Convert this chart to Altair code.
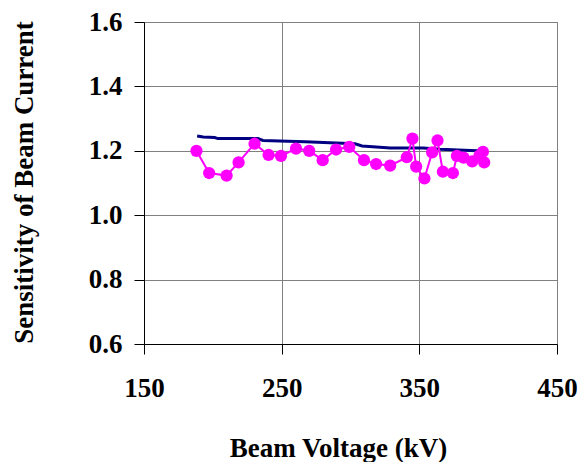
import altair as alt
import pandas as pd

# Measured sensitivity (magenta points)
meas_kv = [188.1, 197.3, 210.0, 218.7, 230.3, 240.5, 249.5, 260.4, 270.0, 279.8,
           289.5, 299.1, 309.8, 318.6, 328.8, 340.9, 345.0, 347.7, 353.7, 359.3,
           363.2, 367.1, 374.4, 377.3, 382.1, 388.4, 393.7, 396.2, 397.1]
meas_val = [1.200, 1.131, 1.123, 1.164, 1.222, 1.187, 1.184, 1.207, 1.200, 1.171,
            1.204, 1.212, 1.171, 1.159, 1.154, 1.180, 1.238, 1.151, 1.114, 1.195,
            1.232, 1.135, 1.131, 1.184, 1.179, 1.167, 1.185, 1.197, 1.164]

# Calculated sensitivity (navy line)
calc_kv = [188.6, 193.0, 201.4, 203.6, 232.7, 236.4, 267.0, 285.1, 303.3, 308.4,
           328.8, 352.8, 365.1, 392.0, 397.1]
calc_val = [1.246, 1.243, 1.241, 1.238, 1.238, 1.232, 1.228, 1.225, 1.222, 1.215,
            1.209, 1.209, 1.205, 1.200, 1.199]

x_ticks = [150, 250, 350, 450]
y_ticks = [0.6, 0.8, 1.0, 1.2, 1.4, 1.6]

meas = pd.DataFrame({"kv": meas_kv, "val": meas_val})
calc = pd.DataFrame({"kv": calc_kv, "val": calc_val})

FONT = "Liberation Serif"

x_enc = alt.X(
    "kv:Q",
    scale=alt.Scale(domain=[150, 450], nice=False, zero=False),
    axis=alt.Axis(
        values=x_ticks, title="Beam Voltage (kV)", format="d",
        titleX=194, titleY=112, titleBaseline="alphabetic", titleAnchor="start",
        titleAlign="center",
        labelPadding=21, tickSize=10, labelFlush=False,
    ),
)
y_enc = alt.Y(
    "val:Q",
    scale=alt.Scale(domain=[0.6, 1.6], nice=False, zero=False),
    axis=alt.Axis(
        values=y_ticks, format=".1f", title="Sensitivity of Beam Current",
        titleX=-112, titleY=160, titleAngle=-90, titleBaseline="alphabetic",
        titleAlign="center", titleAnchor="start",
        labelPadding=12, tickSize=10, labelFlush=False,
    ),
)

calc_line = alt.Chart(calc).mark_line(color="#000080", strokeWidth=3).encode(
    x=x_enc, y=y_enc
)
meas_line = alt.Chart(meas).mark_line(color="#FF00FF", strokeWidth=2).encode(
    x="kv:Q", y="val:Q"
)
meas_pts = alt.Chart(meas).mark_circle(color="#FF00FF", size=150, opacity=1).encode(
    x="kv:Q", y="val:Q"
)

chart = (
    alt.layer(calc_line, meas_line, meas_pts)
    .properties(
        width=413, height=322,
        autosize=alt.AutoSizeParams(type="none"),
        padding={"left": 136, "top": 14, "right": 23, "bottom": 118},
        background="white",
    )
    .configure_view(stroke="#808080", strokeWidth=1)
    .configure_axis(
        grid=True, gridColor="#808080", gridWidth=1, gridOpacity=1,
        domainColor="black", domainWidth=1, tickColor="black", tickWidth=1,
        labelFont=FONT, labelFontWeight="bold", labelFontSize=27, labelColor="black",
        titleFont=FONT, titleFontWeight="bold", titleFontSize=27, titleColor="black",
    )
)

chart.save("out.html", embed_options={"renderer": "svg", "actions": False})
